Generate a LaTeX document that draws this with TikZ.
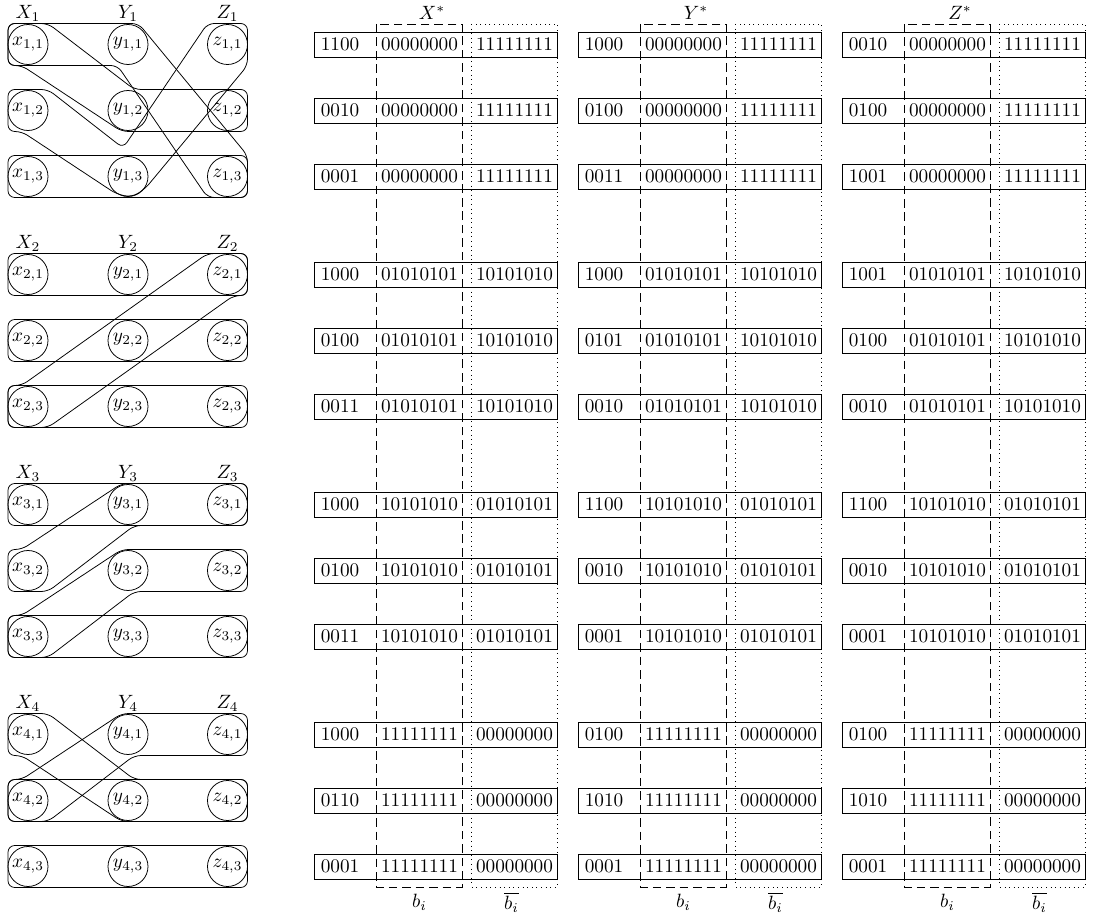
\documentclass[tikz,border=0pt]{standalone}
\usepackage{amsmath}
\usepackage{amssymb}
\usetikzlibrary{calc,positioning}

% hyperedges drawn round the vertices they join
\newcommand{\rowedge}[2]{\draw[hedge] ($(#1)+(-20,-21)$) rectangle ($(#2)+(20,21)$);}
\newcommand{\downedge}[3]{\draw[hedge] ($(#1)+(-20,0)$) -- ($(#1)+(-20,-21)$)
  -- ($(#1)+(20,-21)$) -- ($(#2)+(6.3,-21)$) -- ($(#3)+(20,-21)$)
  -- ($(#3)+(20,21)$) -- ($(#2)+(-6.3,21)$) -- ($(#1)+(-6.3,21)$)
  -- ($(#1)+(-20,21)$) -- cycle;}
\newcommand{\upedge}[3]{\draw[hedge] ($(#1)+(-20,0)$) -- ($(#1)+(-20,-21)$)
  -- ($(#1)+(-6.3,-21)$) -- ($(#2)+(-6.3,-21)$) -- ($(#3)+(20,-21)$)
  -- ($(#3)+(20,21)$) -- ($(#2)+(6.3,21)$) -- ($(#1)+(20,21)$)
  -- ($(#1)+(-20,21)$) -- cycle;}
\newcommand{\dropedge}[3]{\draw[hedge] ($(#1)+(-20,0)$) -- ($(#1)+(-20,-21)$)
  -- ($(#2)+(10.5,-21)$) -- ($(#3)+(20,-21)$) -- ($(#3)+(20,21)$)
  -- ($(#3)+(-20,21)$) -- ($(#2)+(-10.5,21)$) -- ($(#1)+(-20,21)$) -- cycle;}
\newcommand{\vedge}[3]{\draw[hedge] ($(#1)+(-20,0)$) -- ($(#1)+(-20,-21)$)
  -- ($(#1)+(20,-21)$) -- ($(#2)+(-4.9,-28.4)$) -- ($(#3)+(-20,-21)$)
  -- ($(#3)+(20,-21)$) -- ($(#3)+(20,21)$) -- ($(#2)+(16.8,12.6)$)
  -- ($(#2)+(3.6,20.7)$) -- ($(#2)+(-11.6,17.5)$) -- ($(#1)+(-6.3,21)$)
  -- ($(#1)+(-20,21)$) -- cycle;}
\newcommand{\diagedge}[2]{\draw[hedge] ($(#1)+(-20,0)$) -- ($(#1)+(-20,-21)$)
  -- ($(#1)+(-6.3,-21)$) -- ($(#2)+(-20,-21)$) -- ($(#2)+(20,-21)$)
  -- ($(#2)+(20,21)$) -- ($(#2)+(6.3,21)$) -- ($(#1)+(20,21)$)
  -- ($(#1)+(-20,21)$) -- cycle;}
\newcommand{\bitsof}[1]{\ifcase#1\relax\or 00000000\or 01010101\or 10101010\or 11111111\fi}
\newcommand{\compof}[1]{\ifcase#1\relax\or 11111111\or 10101010\or 01010101\or 00000000\fi}

\begin{document}
\begin{tikzpicture}[
  x=0.52pt, y=-0.52pt,
  vtx/.style={circle, draw, inner sep=0pt, minimum size=20.8pt},
  hedge/.style={draw, rounded corners=3.5pt},
  cword/.style={anchor=west},
  bitbox/.style={inner sep=2pt},
  bitcol/.style={dash pattern=on 4.5pt off 2.5pt},
  compcol/.style={dotted},
]
\useasboundingbox (0,0) rectangle (1098,921);

% vertices of the four gadgets
\foreach \g in {1,...,4} {
  \pgfmathsetmacro\yb{44.5+230*(\g-1)}
  \foreach \cl/\CL/\cx in {x/X/28, y/Y/128, z/Z/227.5} {
    \node (\CL\g) at (\cx,\yb-31.5) {$\CL_\g$};
    \foreach \r in {1,2,3}
      \node[vtx] (\cl\g\r) at (\cx,\yb+66*\r-66) {$\cl_{\g,\r}$};
  }
}

% gadget 1
\dropedge{x11}{y11}{z13}
\downedge{x11}{y12}{z12}
\vedge{x12}{y13}{z11}
\rowedge{x13}{z13}
% gadget 2
\foreach \r in {1,2,3} {\rowedge{x2\r}{z2\r}}
\diagedge{x23}{z21}
% gadget 3
\rowedge{x31}{z31}
\upedge{x32}{y31}{z31}
\upedge{x33}{y32}{z32}
\rowedge{x33}{z33}
% gadget 4
\downedge{x41}{y42}{z42}
\upedge{x42}{y41}{z41}
\rowedge{x42}{z42}
\rowedge{x43}{z43}

% the numbers X*, Y*, Z*
\foreach \b/\g/\ca/\cb/\cc in {
  0/1/1100/0010/0001, 0/2/1000/0100/0011, 0/3/1000/0100/0011, 0/4/1000/0110/0001,
  1/1/1000/0100/0011, 1/2/1000/0101/0010, 1/3/1100/0010/0001, 1/4/0100/1010/0001,
  2/1/0010/0100/1001, 2/2/1001/0100/0010, 2/3/1100/0010/0001, 2/4/0100/1010/0001} {
  \foreach \r/\code in {1/\ca, 2/\cb, 3/\cc} {
    \pgfmathsetmacro\yy{44.5+230*(\g-1)+66*(\r-1)}
    \pgfmathsetmacro\xx{314+264*\b}
    \node[cword] (c\b\g\r) at (\xx,\yy) {\code};
    \node[bitbox] (b\b\g\r) at (\xx+105.5,\yy) {\bitsof{\g}};
    \node[bitbox] (n\b\g\r) at (\xx+200.5,\yy) {\compof{\g}};
    \draw ($(c\b\g\r.west)+(0,-12.5)$) rectangle ($(n\b\g\r.east)+(0,12.5)$);
  }
}

\foreach \b/\lab in {0/X, 1/Y, 2/Z} {
  \draw[bitcol] ($(b\b11.west)+(0,-20.5)$) rectangle ($(b\b43.east)+(0,20.5)$);
  \draw[compcol] ($(n\b11.west)+(0,-20.5)$) rectangle ($(n\b43.east)+(0,20.5)$);
  \node (t\b) at ($(b\b11)+(12.5,-32)$) {$\lab^*$};
  \node (bi\b) at ($(b\b43)+(0,36)$) {$b_i$};
  \node (nb\b) at ($(n\b43)+(-3,36)$) {$\overline{b_i}$};
}
\end{tikzpicture}
\end{document}
